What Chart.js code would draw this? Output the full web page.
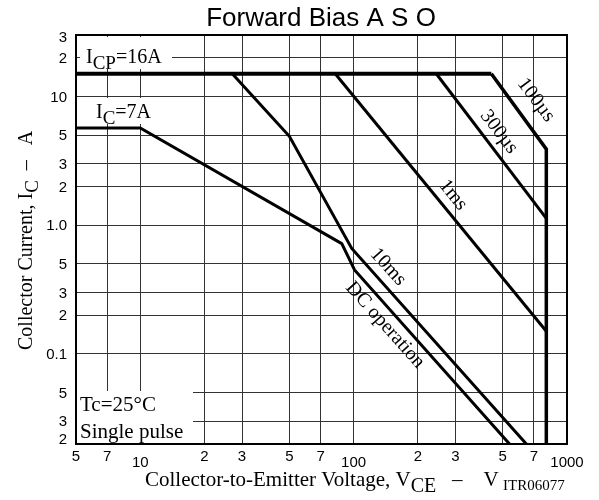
<!DOCTYPE html>
<html>
<head>
<meta charset="utf-8">
<title>Forward Bias A S O</title>
<script src="https://cdn.jsdelivr.net/npm/chart.js@4.4.1/dist/chart.umd.min.js"></script>
<style>
  body { margin: 0; background: #fff; }
  #wrap { width: 599px; height: 500px; }
</style>
</head>
<body>
<div id="wrap"><canvas id="chart" width="599" height="500"></canvas></div>
<script>
// ==== DATA ====
const xTicks = [5, 7, 10, 20, 30, 50, 70, 100, 200, 300, 500, 700, 1000];
const xTickLabels = ["5", "7", "10", "2", "3", "5", "7", "100", "2", "3", "5", "7", "1000"];
const yTicks = [0.02, 0.03, 0.05, 0.1, 0.2, 0.3, 0.5, 1, 2, 3, 5, 10, 20, 30];
const yTickLabels = ["2", "3", "5", "0.1", "2", "3", "5", "1.0", "2", "3", "5", "10", "2", "3"];

// collector-emitter voltage (V) / collector current (A)
const icpVoltage = [5, 442];
const icpCurrent = [15, 15];
const us100Voltage = [442, 800, 800];
const us100Current = [15, 3.9, 0.02];
const us300Voltage = [244, 800];
const us300Current = [15, 1.13];
const ms1Voltage = [82, 800];
const ms1Current = [15, 0.15];
const ms10Voltage = [27, 50, 98, 645];
const ms10Current = [15, 4.9, 0.66, 0.02];
const dcVoltage = [5, 10, 88, 101, 538];
const dcCurrent = [5.7, 5.7, 0.72, 0.45, 0.02];

const SERIF = "'Liberation Serif', 'Times New Roman', serif";
const SANS = "'Liberation Sans', Arial, sans-serif";

function series(xs, ys) {
  return xs.map((x, i) => ({ x: x, y: ys[i] }));
}

function line(label, xs, ys, width) {
  return {
    label: label,
    data: series(xs, ys),
    showLine: true,
    borderColor: "#000",
    borderWidth: width,
    pointRadius: 0,
    tension: 0,
    fill: false
  };
}

// draws text pieces one after another, subscripts shifted down
function drawRich(ctx, x, y, parts) {
  let cx = x;
  parts.forEach(p => {
    ctx.font = p.font;
    ctx.fillText(p.text, cx, y + (p.dy || 0));
    cx += ctx.measureText(p.text).width;
  });
}

function drawRotated(ctx, text, x, y, deg, font) {
  ctx.save();
  ctx.translate(x, y);
  ctx.rotate(deg * Math.PI / 180);
  ctx.font = font;
  ctx.textAlign = "center";
  ctx.textBaseline = "middle";
  ctx.fillText(text, 0, 0);
  ctx.restore();
}

// ==== DECORATION PLUGIN ====
const asoDecor = {
  id: "asoDecor",
  beforeDatasetsDraw(chart) {
    const c = chart.ctx;
    c.save();
    c.fillStyle = "#fff";
    c.fillRect(80, 37, 92, 32);   // I_CP label
    c.fillRect(93, 98, 64, 26);   // I_C label
    c.fillRect(77, 391, 116, 52); // Tc box
    c.restore();
  },
  afterDatasetsDraw(chart) {
    const a = chart.chartArea;
    const c = chart.ctx;
    c.save();
    c.strokeStyle = "#000";
    c.lineWidth = 2;
    c.strokeRect(a.left, a.top, a.right - a.left, a.bottom - a.top);
    c.restore();
  },
  afterDraw(chart) {
    const c = chart.ctx;
    const xs = chart.scales.x;
    const ys = chart.scales.y;
    c.save();
    c.fillStyle = "#000";

    // title
    c.font = "26px " + SANS;
    c.textAlign = "center";
    c.textBaseline = "alphabetic";
    c.fillText("Forward Bias A S O", 321, 26);

    // x tick labels
    c.font = "15px " + SANS;
    c.textBaseline = "middle";
    xTicks.forEach((v, i) => {
      const decade = [10, 100, 1000].includes(v);
      c.fillText(xTickLabels[i], xs.getPixelForValue(v), decade ? 463 : 457);
    });

    // y tick labels
    c.textAlign = "right";
    yTicks.forEach((v, i) => {
      let off = 1;
      if (v === 30) off = 3;
      if (v === 0.02) off = -4;
      c.fillText(yTickLabels[i], 67, ys.getPixelForValue(v) + off);
    });

    // annotations
    c.textAlign = "left";
    c.textBaseline = "alphabetic";
    const f20 = "20px " + SERIF;
    const f18 = "19px " + SERIF;
    drawRich(c, 86, 63, [
      { text: "I", font: f20 },
      { text: "CP", font: f18, dy: 6 },
      { text: "=16A", font: f20 }
    ]);
    drawRich(c, 96, 118, [
      { text: "I", font: f20 },
      { text: "C", font: f18, dy: 6 },
      { text: "=7A", font: f20 }
    ]);
    c.font = "21px " + SERIF;
    c.fillText("Tc=25\u00B0C", 80, 411);
    c.fillText("Single pulse", 80, 438);

    // line labels
    const fl = "20px " + SERIF;
    drawRotated(c, "100\u00B5s", 536, 100, 53, fl);
    drawRotated(c, "300\u00B5s", 499, 132, 52.6, fl);
    drawRotated(c, "1ms", 453, 195, 50.7, fl);
    drawRotated(c, "10ms", 388, 267, 48, fl);
    drawRotated(c, "DC operation", 385, 325, 48.3, fl);

    // axis titles
    c.textAlign = "left";
    c.textBaseline = "alphabetic";
    const ft = "21px " + SERIF;
    drawRich(c, 145, 486, [
      { text: "Collector-to-Emitter Voltage, V", font: ft },
      { text: "CE", font: "20px " + SERIF, dy: 6 },
      { text: "   \u2013    V", font: ft }
    ]);
    c.font = "15px " + SERIF;
    c.fillText("ITR06077", 503, 490);

    c.save();
    c.translate(32, 350);
    c.rotate(-Math.PI / 2);
    drawRich(c, 0, 0, [
      { text: "Collector Current, I", font: "20px " + SERIF },
      { text: "C", font: "19px " + SERIF, dy: 6 },
      { text: "  \u2013   A", font: "20px " + SERIF }
    ]);
    c.restore();

    c.restore();
  }
};

// ==== CHART ====
const gridOpts = { color: "#333", lineWidth: 1, drawTicks: false };

new Chart(document.getElementById("chart"), {
  type: "scatter",
  data: {
    datasets: [
      line("I_CP", icpVoltage, icpCurrent, 4),
      line("100us", us100Voltage, us100Current, 3.5),
      line("300us", us300Voltage, us300Current, 3),
      line("1ms", ms1Voltage, ms1Current, 3),
      line("10ms", ms10Voltage, ms10Current, 3),
      line("DC", dcVoltage, dcCurrent, 3)
    ]
  },
  options: {
    responsive: false,
    animation: false,
    layout: { padding: { left: 76, right: 32, top: 35, bottom: 56 } },
    plugins: {
      legend: { display: false },
      tooltip: { enabled: false }
    },
    scales: {
      x: {
        type: "logarithmic",
        min: 5,
        max: 1000,
        afterBuildTicks: axis => { axis.ticks = xTicks.map(v => ({ value: v })); },
        ticks: { display: false },
        grid: gridOpts,
        border: { display: false }
      },
      y: {
        type: "logarithmic",
        min: 0.02,
        max: 30,
        afterBuildTicks: axis => { axis.ticks = yTicks.map(v => ({ value: v })); },
        ticks: { display: false },
        grid: gridOpts,
        border: { display: false }
      }
    }
  },
  plugins: [asoDecor]
});
</script>
</body>
</html>
